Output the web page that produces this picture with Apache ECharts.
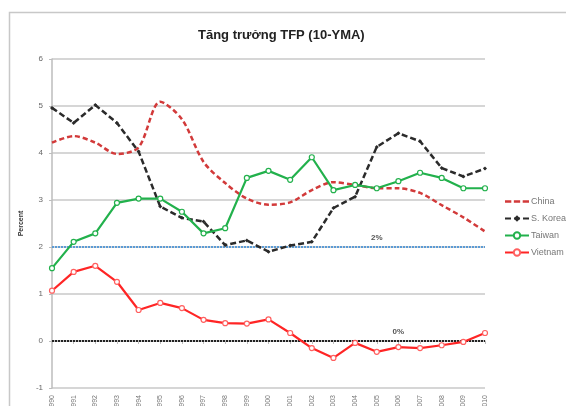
<!DOCTYPE html>
<html>
<head>
<meta charset="utf-8">
<script src="https://cdn.jsdelivr.net/npm/echarts@6/dist/echarts.min.js"></script>
<style>
  html, body { margin: 0; padding: 0; background: #fff; overflow: hidden; }
  /* the frame runs past the bottom edge of the window, so the year labels are clipped */
  #chart { width: 566px; height: 450px; }
</style>
</head>
<body>
<div id="chart"></div>
<script>
// Ten-year moving average of TFP growth, percent
const years = ['1990','1991','1992','1993','1994','1995','1996','1997','1998','1999','2000',
               '2001','2002','2003','2004','2005','2006','2007','2008','2009','2010'];

const china   = [4.22, 4.36, 4.22, 3.98, 4.12, 5.09, 4.72, 3.81, 3.36, 3.03, 2.9,
                 2.95, 3.21, 3.38, 3.32, 3.25, 3.25, 3.15, 2.89, 2.63, 2.33];
const korea   = [4.96, 4.64, 5.02, 4.64, 4.03, 2.86, 2.62, 2.54, 2.04, 2.14, 1.9,
                 2.03, 2.11, 2.83, 3.07, 4.13, 4.42, 4.25, 3.68, 3.5, 3.67];
const taiwan  = [1.55, 2.11, 2.29, 2.94, 3.03, 3.03, 2.75, 2.29, 2.4, 3.47, 3.62,
                 3.43, 3.91, 3.21, 3.32, 3.25, 3.4, 3.58, 3.47, 3.25, 3.25];
const vietnam = [1.07, 1.47, 1.6, 1.26, 0.66, 0.81, 0.7, 0.45, 0.38, 0.37, 0.46,
                 0.17, -0.15, -0.36, -0.04, -0.23, -0.13, -0.15, -0.09, -0.02, 0.17];

// Reference levels
const level2 = [2, 2, 2, 2, 2, 2, 2, 2, 2, 2, 2, 2, 2, 2, 2, 2, 2, 2, 2, 2, 2];
const level0 = [0, 0, 0, 0, 0, 0, 0, 0, 0, 0, 0, 0, 0, 0, 0, 0, 0, 0, 0, 0, 0];
const level2Text = '2%';
const level0Text = '0%';
const labelIndex2 = 15;
const labelIndex0 = 16;

const chart = echarts.init(document.getElementById('chart'), null, { renderer: 'canvas' });

function levelData(values, idx, text, offset) {
  return values.map((v, i) => i === idx
    ? { value: v, label: { show: true, formatter: text, position: 'top', offset: offset,
        color: '#555', fontSize: 8, fontWeight: 'bold', fontFamily: 'Liberation Sans' } }
    : v);
}

const hollow = (color) => ({ color: '#fff', borderColor: color, borderWidth: 1.2 });

chart.setOption({
  animation: false,
  backgroundColor: '#fff',
  title: {
    text: 'Tăng trưởng TFP (10-YMA)',
    left: 193,
    top: 24,
    textStyle: { fontFamily: 'Liberation Sans Narrow, Liberation Sans', fontWeight: 'bold', fontSize: 13, color: '#222' }
  },
  graphic: [{
    type: 'rect', silent: true, z: -1,
    shape: { x: 9.5, y: 12.5, width: 700, height: 600 },
    style: { fill: 'none', stroke: '#c8c8c8', lineWidth: 1.5 }
  }],
  legend: {
    orient: 'vertical',
    left: 499,
    top: 192,
    itemGap: 8,
    itemWidth: 24,
    itemHeight: 8,
    data: [
      { name: 'China', icon: 'path://M0,0h5v2h-5z M7,0h5v2h-5z M14,0h5v2h-5z' },
      'S. Korea', 'Taiwan', 'Vietnam'
    ],
    textStyle: { color: '#777', fontSize: 9, fontFamily: 'Liberation Sans', padding: [0, 0, 0, -3] }
  },
  grid: { left: 52, right: 81, top: 59, bottom: 62, containLabel: false },
  xAxis: {
    type: 'category',
    data: years,
    boundaryGap: false,
    axisLine: { lineStyle: { color: '#bdbdbd', width: 1.5 } },
    axisTick: { show: true, alignWithLabel: true, length: 3, lineStyle: { color: '#bdbdbd' } },
    axisLabel: { rotate: 90, color: '#777', fontSize: 7, margin: 7, fontFamily: 'Liberation Sans', interval: 0 }
  },
  yAxis: {
    type: 'value',
    min: -1, max: 6, interval: 1,
    name: 'Percent',
    nameLocation: 'middle',
    nameRotate: 90,
    nameGap: 23,
    nameTextStyle: { fontSize: 7, fontWeight: 'bold', color: '#333', fontFamily: 'Liberation Sans' },
    axisLine: { show: true, lineStyle: { color: '#bdbdbd', width: 1.5 } },
    axisTick: { show: true, length: 3, lineStyle: { color: '#bdbdbd' } },
    axisLabel: { color: '#666', fontSize: 8, margin: 9, fontFamily: 'Liberation Sans' },
    splitLine: { lineStyle: { color: '#d6d6d6', width: 2 } }
  },
  series: [
    {
      name: 'China', type: 'line', data: china, smooth: 0.3,
      symbol: 'none', showSymbol: false,
      lineStyle: { color: '#d23a3a', width: 2.5, type: [5, 3] },
      itemStyle: { color: '#d23a3a' }, z: 3
    },
    {
      name: 'S. Korea', type: 'line', data: korea,
      symbol: 'diamond', symbolSize: 4,
      lineStyle: { color: '#2b2b2b', width: 2.5, type: [6, 3] },
      itemStyle: { color: '#2b2b2b' }, z: 3
    },
    {
      name: 'Taiwan', type: 'line', data: taiwan,
      symbol: 'circle', symbolSize: 5,
      lineStyle: { color: '#22b14c', width: 2.2 },
      itemStyle: hollow('#22b14c'), z: 4
    },
    {
      name: 'Vietnam', type: 'line', data: vietnam,
      symbol: 'circle', symbolSize: 5,
      lineStyle: { color: '#ff2525', width: 2.2 },
      itemStyle: hollow('#ff6060'), z: 4
    },
    {
      name: 'level2', type: 'line', data: levelData(level2, labelIndex2, level2Text, [10, -3]),
      symbol: 'circle', symbolSize: 1, showSymbol: true, silent: true,
      itemStyle: { color: 'rgba(0,0,0,0)', borderWidth: 0 },
      labelLayout: { hideOverlap: false },
      lineStyle: { color: '#5b9bd5', width: 2.2, type: [2, 1] }, z: 2
    },
    {
      name: 'level0', type: 'line', data: levelData(level0, labelIndex0, level0Text, [11, -3]),
      symbol: 'circle', symbolSize: 1, showSymbol: true, silent: true,
      itemStyle: { color: 'rgba(0,0,0,0)', borderWidth: 0 },
      labelLayout: { hideOverlap: false },
      lineStyle: { color: '#222', width: 2, type: [2, 1] }, z: 2
    }
  ]
});
</script>
</body>
</html>
